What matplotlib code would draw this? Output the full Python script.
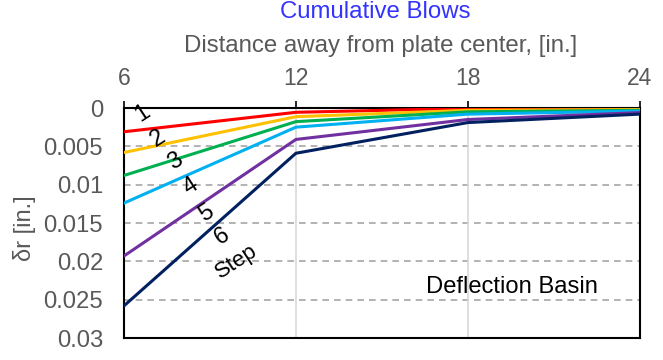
import matplotlib
matplotlib.use("Agg")
import matplotlib.pyplot as plt

plt.rcParams['font.family'] = ['Liberation Sans', 'DejaVu Sans']

# Radial distance of the sensors from the plate center [in.]
distance = [6, 12, 18, 24]
x_ticks = [6, 12, 18, 24]
y_ticks = [0, 0.005, 0.01, 0.015, 0.02, 0.025, 0.03]
y_tick_labels = ["0", "0.005", "0.01", "0.015", "0.02", "0.025", "0.03"]

# Deflection per cumulative blow step [in.]
step_1 = [0.0031, 0.00056, 0.00005, 0.0000]
step_2 = [0.0058, 0.00113, 0.0003, 0.0002]
step_3 = [0.0088, 0.00178, 0.0005, 0.0003]
step_4 = [0.0124, 0.0025, 0.0008, 0.0004]
step_5 = [0.0193, 0.0041, 0.0015, 0.0006]
step_6 = [0.0258, 0.0059, 0.0019, 0.0008]

series = [step_1, step_2, step_3, step_4, step_5, step_6]
step_names = ["1", "2", "3", "4", "5", "6"]
colors = ["#FF0000", "#FFC000", "#00B050", "#00B0F0", "#7030A0", "#002060"]

fig = plt.figure(figsize=(6.63, 3.6), dpi=100)
ax = fig.add_axes([0.187, 0.061, 0.778, 0.639])

for vals, c in zip(series, colors):
    ax.plot(distance, vals, color=c, lw=2.2, solid_joinstyle='miter', zorder=3)

ax.set_xlim(6, 24)
ax.set_ylim(0.03, 0)
ax.xaxis.tick_top()
ax.set_xticks(x_ticks)
ax.set_xticklabels([str(v) for v in x_ticks])
ax.set_yticks(y_ticks)
ax.set_yticklabels(y_tick_labels)

ax.tick_params(axis='x', which='both', direction='out', length=5, width=1.2,
               color='black', labelsize=16.5, labelcolor='#595959', pad=8)
ax.tick_params(axis='y', which='both', length=0, labelsize=17.2,
               labelcolor='#595959', pad=15)

# Grid: dashed horizontal, light solid vertical
for yv in y_ticks[1:-1]:
    ax.axhline(yv, color='#A6A6A6', lw=1.2, ls=(0, (4, 3)), zorder=1)
for xv in x_ticks[1:-1]:
    ax.axvline(xv, color='#D9D9D9', lw=1.2, zorder=1)

for s in ax.spines.values():
    s.set_color('black')
    s.set_linewidth(1.5)

fig.text(25 / 663, 1 - 228 / 360, "δr [in.]", rotation=90, ha='center',
         va='center', color='#595959', fontsize=17)

# Step labels along the basin curves
label_pos = [(6.66, 0.00065), (7.19, 0.0039), (7.78, 0.0070), (8.34, 0.0102),
             (8.86, 0.0137), (9.42, 0.0168)]
for name, (lx, ly) in zip(step_names, label_pos):
    ax.text(lx, ly, name, rotation=33, ha='center', va='center',
            fontsize=17, color='black', zorder=4)
ax.text(9.94, 0.0201, "Step", rotation=33, ha='center', va='center',
        fontsize=16, color='black', zorder=4)

ax.text(0.752, 0.222, "Deflection Basin", transform=ax.transAxes,
        ha='center', va='center', fontsize=17.1, color='black')

fig.text(375 / 663, 1 - 12 / 360, "Cumulative Blows", ha='center', va='center',
         fontsize=17.3, color='#3333FF')
fig.text(381 / 663, 1 - 46 / 360, "Distance away from plate center, [in.]",
         ha='center', va='center', fontsize=17.3, color='#595959')

fig.savefig("out.png", dpi=100)
